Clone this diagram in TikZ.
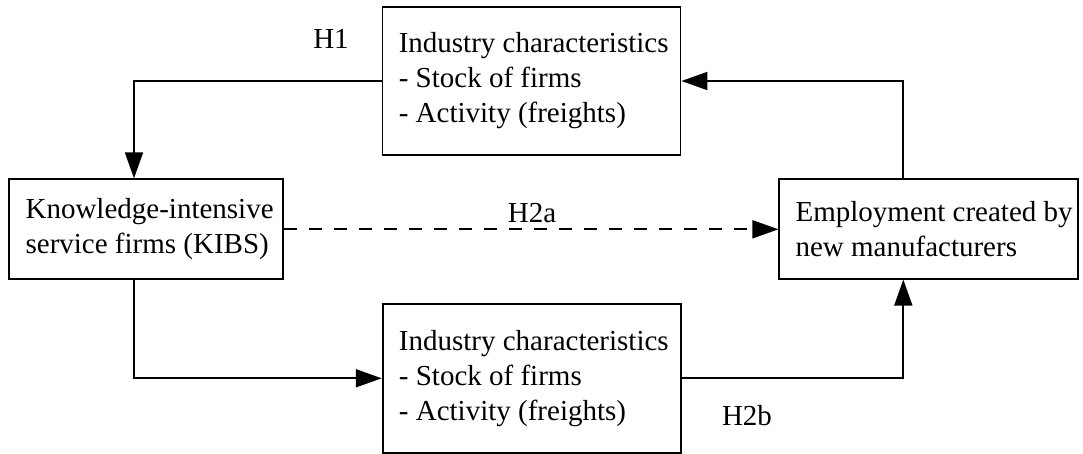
\documentclass[tikz,border=0pt]{standalone}
\usepackage{fontspec}
\setmainfont{Liberation Serif}
\usetikzlibrary{arrows.meta}
\begin{document}
\begin{tikzpicture}[x=1pt,y=-1pt,
  every node/.style={font=\fontsize{29}{35}\selectfont},
  boxnode/.style={draw, line width=1.8pt, rectangle, inner sep=0pt},
  txt/.style={anchor=west, align=left, inner sep=0pt, xshift=17pt},
  conn/.style={line width=1.8pt, -{Triangle[length=26pt,width=18pt]}},
  lbl/.style={inner sep=0pt}]
\useasboundingbox (0,0) rectangle (1083,454);
% boxes
\node[boxnode, minimum width=298pt, minimum height=148pt] (top) at (531.5,81) {};
\node[txt] (toptxt) at (top.west) {Industry characteristics\\- Stock of firms\\- Activity (freights)};
\node[boxnode, minimum width=274pt, minimum height=100pt] (kibs) at (146.3,229.3) {};
\node[txt] (kibstxt) at (kibs.west) {Knowledge-intensive\\service firms (KIBS)};
\node[boxnode, minimum width=298.4pt, minimum height=100pt] (emp) at (928.5,228.7) {};
\node[txt] (emptxt) at (emp.west) {Employment created by\\new manufacturers};
\node[boxnode, minimum width=298.3pt, minimum height=148.7pt] (bot) at (531.8,378.3) {};
\node[txt] (bottxt) at (bot.west) {Industry characteristics\\- Stock of firms\\- Activity (freights)};
% connectors
\coordinate (c1) at (134,81);
\coordinate (c2) at (903.3,81);
\coordinate (c3) at (134,378.3);
\coordinate (c4) at (903.3,378.3);
\draw[conn] (top.west |- c1) -- (c1) -- (c1 |- kibs.north);
\draw[conn] (emp.north -| c2) -- (c2) -- (c2 -| top.east);
\draw[conn, dash pattern=on 13pt off 12pt] (kibs.east |- 0,229.3) -- (emp.west |- 0,229.3);
\draw[conn] (kibs.south -| c3) -- (c3) -- (c3 -| bot.west);
\draw[conn] (bot.east |- c4) -- (c4) -- (c4 |- emp.south);
% labels
\node[lbl] (h1) at (331,39) {H1};
\node[lbl] (h2a) at (532,213) {H2a};
\node[lbl] (h2b) at (747,416) {H2b};
\end{tikzpicture}
\end{document}
